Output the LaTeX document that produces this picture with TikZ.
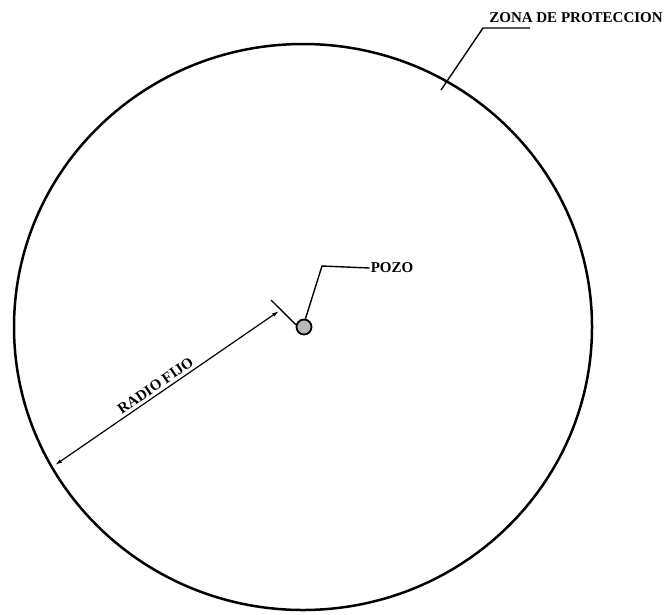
\documentclass[tikz,border=0pt]{standalone}
\usepackage{fontspec}
\setmainfont{Liberation Serif}
\usetikzlibrary{arrows.meta, positioning}

\begin{document}
\begin{tikzpicture}[
  x=1pt, y=-1pt,
  zone/.style={draw=black, line width=2.5pt},
  well/.style={circle, draw=black, fill=gray!55, minimum size=15pt,
               inner sep=0pt, line width=1.8pt},
  lbl/.style={font=\fontsize{15}{17}\selectfont\bfseries, inner sep=1pt},
  leader/.style={black, line width=1.4pt},
  dim/.style={{Latex[length=7pt,width=4pt]}-{Latex[length=7pt,width=4pt]},
              line width=1.2pt},
]
\useasboundingbox (0,0) rectangle (668,614);

% Protection zone
\draw[zone] (303,327) ellipse [x radius=289pt, y radius=283pt];

% Nodes
\node[well] (pozodot) at (304,327) {};
\node[lbl] (pozo) at (392,268) {POZO};
\node[lbl] (zona) at (576,18) {ZONA DE PROTECCION};
\coordinate (zonaPt) at (441,90);
\coordinate (zonaBend) at (483,28);
\coordinate (zonaEnd) at (530,28);
\coordinate (pozoBend) at (322,266);
\coordinate (dimA) at (55,465);
\coordinate (dimB) at (279,311);
\coordinate (extTop) at (271,300);

% Leaders
\draw[leader] (zonaPt) -- (zonaBend) -- (zonaEnd);
\draw[leader] (pozodot.80) -- (pozoBend) -- (pozo.west);

% Dimension
\draw[leader] (extTop) -- (pozodot.165);
\draw[dim] (dimA) -- node[lbl, sloped, above=2pt, pos=0.47] {RADIO FIJO} (dimB);

\end{tikzpicture}
\end{document}
